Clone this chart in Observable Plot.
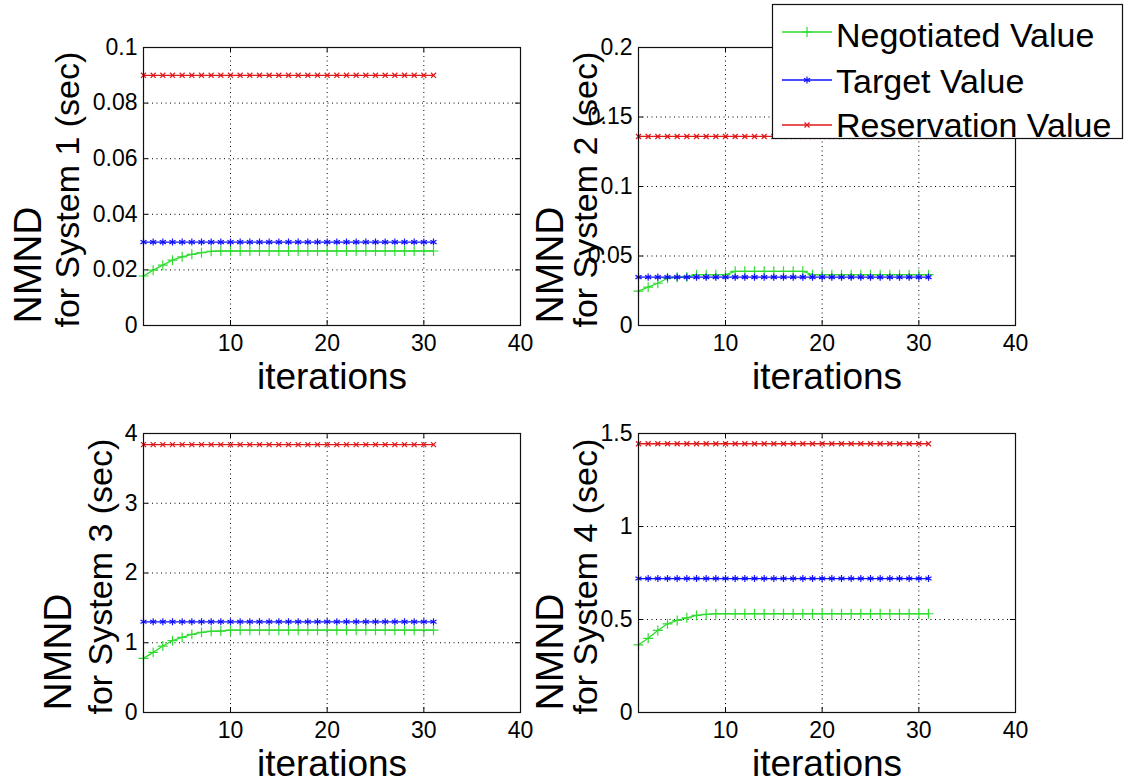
<!DOCTYPE html>
<html><head><meta charset="utf-8">
<script src="https://cdn.jsdelivr.net/npm/d3@7"></script>
<script src="https://cdn.jsdelivr.net/npm/@observablehq/plot@0.6"></script>
<style>
body{margin:0;background:#fff;}
#root{position:relative;width:1129px;height:782px;overflow:hidden;background:#fff;font-family:"Liberation Sans",Arial,sans-serif;}
#root > svg, #root > figure{position:absolute;margin:0;}
</style></head><body><div id="root"></div>
<script>
// ---- data ----
const iterations = [1,2,3,4,5,6,7,8,9,10,11,12,13,14,15,16,17,18,19,20,21,22,23,24,25,26,27,28,29,30,31];
const negotiated1 = [0.0178,0.0199,0.0217,0.0235,0.0247,0.0256,0.0262,0.0267,0.0268,0.0268,0.0268,0.0268,0.0268,0.0268,0.0268,0.0268,0.0268,0.0268,0.0268,0.0268,0.0268,0.0268,0.0268,0.0268,0.0268,0.0268,0.0268,0.0268,0.0268,0.0268,0.0268];
const negotiated2 = [0.0247,0.0276,0.0304,0.0340,0.0347,0.0350,0.0366,0.0366,0.0366,0.0366,0.0390,0.0390,0.0390,0.0390,0.0390,0.0390,0.0390,0.0390,0.0366,0.0366,0.0366,0.0366,0.0366,0.0366,0.0366,0.0366,0.0366,0.0366,0.0366,0.0366,0.0366];
const negotiated3 = [0.776,0.862,0.953,1.030,1.077,1.120,1.149,1.165,1.168,1.180,1.180,1.180,1.180,1.180,1.180,1.180,1.180,1.180,1.180,1.180,1.180,1.180,1.180,1.180,1.180,1.180,1.180,1.180,1.180,1.180,1.180];
const negotiated4 = [0.364,0.399,0.441,0.477,0.495,0.509,0.522,0.528,0.531,0.531,0.531,0.531,0.531,0.531,0.531,0.531,0.531,0.531,0.531,0.531,0.531,0.531,0.531,0.531,0.531,0.531,0.531,0.531,0.531,0.531,0.531];
const targetValues = [0.030, 0.0348, 1.30, 0.72];
const reservationValues = [0.090, 0.136, 3.84, 1.445];
const xDomain = [1, 40];
const xTicks = [10, 20, 30, 40];
const yDomains = [[0, 0.1], [0, 0.2], [0, 4], [0, 1.5]];
const yTicks1 = [0, 0.02, 0.04, 0.06, 0.08, 0.1];
const yTicks2 = [0, 0.05, 0.1, 0.15, 0.2];
const yTicks3 = [0, 1, 2, 3, 4];
const yTicks4 = [0, 0.5, 1, 1.5];
const systemLabels = ["for System 1 (sec)", "for System 2 (sec)", "for System 3 (sec)", "for System 4 (sec)"];
const yLabelTop = "NMND";
const xLabel = "iterations";
const seriesNames = ["Negotiated Value", "Target Value", "Reservation Value"];
const seriesColors = ["#2fdc2f", "#1010ff", "#e01818"];
const seriesSymbols = ["plus", "asterisk", "times"];

const negotiated = [negotiated1, negotiated2, negotiated3, negotiated4];
const yTicks = [yTicks1, yTicks2, yTicks3, yTicks4];
const FONT = '"Liberation Sans", Arial, sans-serif';

const root = document.getElementById("root");

// layout per panel
const layout = [
  {left: 0,   top: 0,   marginLeft: 143, marginTop: 47, frameH: 278, nmndDx: -115, sysDx: -75},
  {left: 500, top: 0,   marginLeft: 138, marginTop: 47, frameH: 278, nmndDx: -88,  sysDx: -52},
  {left: 0,   top: 390, marginLeft: 143, marginTop: 43, frameH: 279, nmndDx: -85,  sysDx: -42},
  {left: 500, top: 390, marginLeft: 138, marginTop: 43, frameH: 279, nmndDx: -88,  sysDx: -52}
];

layout.forEach((L, i) => {
  const frameW = 377, marginRight = 40, marginBottom = 70;
  const rows = iterations.map((it, k) => ({it, neg: negotiated[i][k], tgt: targetValues[i], res: reservationValues[i]}));
  const lineMarks = [["neg", 0], ["tgt", 1], ["res", 2]].flatMap(([key, s]) => [
    Plot.line(rows, {x: "it", y: key, stroke: seriesColors[s], strokeWidth: 1.3}),
    Plot.dot(rows, {x: "it", y: key, symbol: seriesSymbols[s], r: s === 2 ? 2.4 : 3.3, stroke: seriesColors[s], strokeWidth: 1.2, fill: "none"})
  ]);
  const p = Plot.plot({
    width: L.marginLeft + frameW + marginRight,
    height: L.marginTop + L.frameH + marginBottom,
    marginLeft: L.marginLeft, marginTop: L.marginTop, marginRight, marginBottom,
    x: {domain: xDomain},
    y: {domain: yDomains[i]},
    style: {background: "transparent", fontFamily: FONT, fontSize: "23px", color: "black", overflow: "visible"},
    marks: [
      Plot.gridX(xTicks, {stroke: "black", strokeOpacity: 1, strokeDasharray: "1,3.5"}),
      Plot.gridY(yTicks[i], {stroke: "black", strokeOpacity: 1, strokeDasharray: "1,3.5"}),
      Plot.ruleX(xTicks, {stroke: "black", insetTop: L.frameH - 5}),
      Plot.ruleX(xTicks, {stroke: "black", insetBottom: L.frameH - 5}),
      Plot.ruleY(yTicks[i], {stroke: "black", insetRight: frameW - 5}),
      Plot.ruleY(yTicks[i], {stroke: "black", insetLeft: frameW - 5}),
      Plot.axisX(xTicks, {tickSize: 0, tickPadding: 9, label: null, fontSize: 23, tickFormat: d => String(d)}),
      Plot.axisY(yTicks[i], {tickSize: 0, tickPadding: 6, label: null, fontSize: 23, tickFormat: d => String(d)}),
      ...lineMarks,
      Plot.frame({stroke: "#111", strokeWidth: 1.2}),
      Plot.text([xLabel], {frameAnchor: "bottom", dy: 63, lineAnchor: "bottom", fontSize: 37, fill: "black"}),
      Plot.text([yLabelTop], {frameAnchor: "bottom-left", rotate: -90, textAnchor: "start", lineAnchor: "middle", dx: L.nmndDx, dy: -2, fontSize: 39, fill: "black"}),
      Plot.text([systemLabels[i]], {frameAnchor: "bottom-left", rotate: -90, textAnchor: "start", lineAnchor: "middle", dx: L.sysDx, dy: 2, fontSize: 34, fill: "black"})
    ]
  });
  p.style.left = L.left + "px";
  p.style.top = L.top + "px";
  root.appendChild(p);
});

// legend
const legendLineY = [28, 76, 121];
const legendTextY = [43, 89, 133];
const lg = d3.select(root).append("svg")
  .attr("width", 351).attr("height", 146)
  .style("left", "772px").style("top", "4px").style("overflow", "visible");
lg.append("rect").attr("x", 0.5).attr("y", 0.5).attr("width", 350).attr("height", 134)
  .attr("fill", "white").attr("stroke", "#111").attr("stroke-width", 1.2);
const symMap = {plus: d3.symbolPlus, asterisk: d3.symbolAsterisk, times: d3.symbolTimes};
seriesNames.forEach((name, s) => {
  const cy = legendLineY[s];
  lg.append("line").attr("x1", 10).attr("x2", 60).attr("y1", cy).attr("y2", cy)
    .attr("stroke", seriesColors[s]).attr("stroke-width", 1.3);
  lg.append("path").attr("transform", `translate(35,${cy})`)
    .attr("d", d3.symbol(symMap[seriesSymbols[s]], s === 2 ? 18 : 34)())
    .attr("fill", "none").attr("stroke", seriesColors[s]).attr("stroke-width", 1.2);
  lg.append("text").attr("x", 64).attr("y", legendTextY[s])
    .attr("font-family", FONT).attr("font-size", 34).attr("fill", "black").text(name);
});
</script>
</body></html>
